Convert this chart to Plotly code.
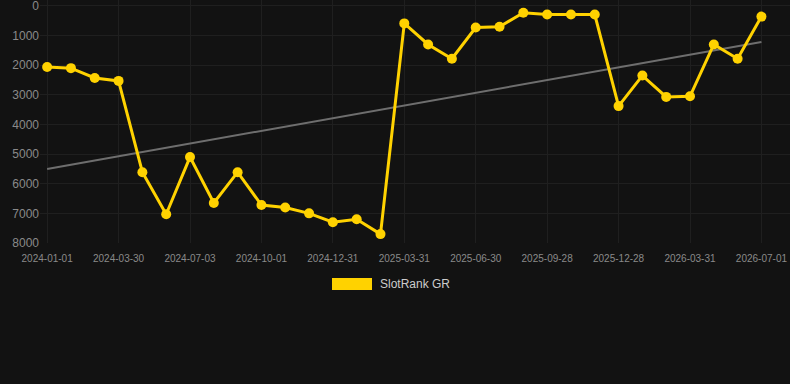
import plotly.graph_objects as go

dates = [
    "2024-01-01", "2024-01-30", "2024-02-29", "2024-03-30", "2024-05-04", "2024-06-03",
    "2024-07-03", "2024-08-02", "2024-09-01", "2024-10-01", "2024-10-31", "2024-12-01",
    "2024-12-31", "2025-01-30", "2025-03-01", "2025-03-31", "2025-05-01", "2025-05-31",
    "2025-06-30", "2025-07-30", "2025-08-29", "2025-09-28", "2025-10-28", "2025-11-28",
    "2025-12-28", "2026-01-28", "2026-02-28", "2026-03-31", "2026-05-01", "2026-06-01",
    "2026-07-01",
]
rank = [
    2060, 2100, 2430, 2530, 5610, 7030, 5100, 6650, 5610, 6720, 6800, 7000, 7300, 7200,
    7700, 590, 1300, 1780, 730, 700, 230, 290, 290, 290, 3380, 2350, 3070, 3050, 1300,
    1780, 360,
]
trend_x = [dates[0], dates[-1]]
trend_y = [5500, 1220]
tick_labels = dates[::3]
y_ticks = [0, 1000, 2000, 3000, 4000, 5000, 6000, 7000, 8000]
series_name = "SlotRank GR"

BG = "#121212"
GOLD = "#FFD200"
W, H = 790, 384
ML, MR, MT, MB = 40, 0, 0, 141
pw, ph = W - ML - MR, H - MT - MB


def px_x(p):
    return (p - ML) / pw


def px_y(p):
    return (H - MB - p) / ph


fig = go.Figure()
fig.add_trace(go.Scatter(
    x=trend_x, y=trend_y, mode="lines",
    line=dict(color="#6e6e6e", width=2), showlegend=False, hoverinfo="skip",
))
fig.add_trace(go.Scatter(
    x=dates, y=rank, mode="lines+markers", name=series_name,
    line=dict(color=GOLD, width=3), marker=dict(color=GOLD, size=10),
    showlegend=False,
))

fig.update_layout(
    width=W, height=H,
    margin=dict(l=ML, r=MR, t=MT, b=MB),
    paper_bgcolor=BG, plot_bgcolor=BG,
    font=dict(family="Liberation Sans, Arial, sans-serif", color="#8a8a8a"),
    xaxis=dict(
        type="category", categoryorder="array", categoryarray=dates,
        range=[-0.3, 31.2],
        tickvals=tick_labels, ticktext=tick_labels,
        tickfont=dict(size=10, color="#8a8a8a"),
        ticklabelstandoff=8,
        showgrid=True, gridcolor="#1f1f1f", gridwidth=1,
        zeroline=False, showline=False, ticks="", ticklen=0,
    ),
    yaxis=dict(
        range=[8000, -200], tickvals=y_ticks,
        tickfont=dict(size=12, color="#8a8a8a"),
        ticklabeloverflow="allow",
        showgrid=True, gridcolor="#1f1f1f", gridwidth=1,
        zeroline=False, showline=False, ticks="", ticklen=0,
    ),
    shapes=[dict(
        type="rect", xref="paper", yref="paper",
        x0=px_x(332), x1=px_x(372), y0=px_y(290), y1=px_y(278),
        fillcolor=GOLD, line=dict(width=0),
    )],
    annotations=[dict(
        text=series_name, xref="paper", yref="paper",
        x=px_x(378), y=px_y(284), xanchor="left", yanchor="middle",
        showarrow=False, font=dict(size=12, color="#cccccc"),
    )],
)

fig.write_html("out.html")
